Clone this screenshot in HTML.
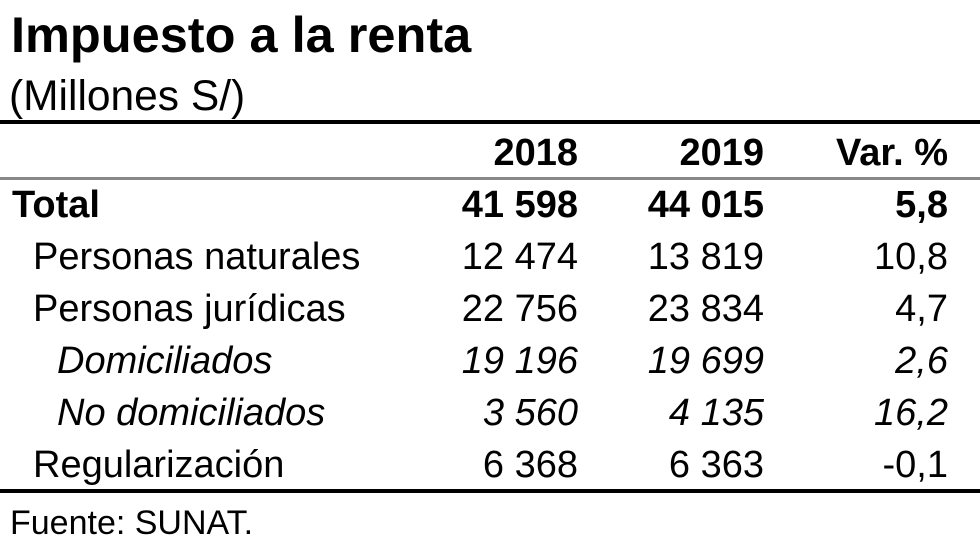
<!DOCTYPE html>
<html><head><meta charset="utf-8"><style>
body{margin:0;width:980px;height:552px;background:#fff;position:relative;overflow:hidden;font-family:"Liberation Sans",Arial,sans-serif;color:#000}
.t{position:absolute;white-space:nowrap;line-height:1}
.r{text-align:right}
.line{position:absolute;left:0;width:980px}
.b{font-weight:bold}.i{font-style:italic}
</style></head><body>
<div class="t b" style="left:11px;top:10px;font-size:50.5px">Impuesto a la renta</div>
<div class="t" style="left:9px;top:76px;font-size:42.5px">(Millones S/)</div>
<div class="line" style="top:120px;height:4px;background:#000"></div>
<div class="line" style="top:177px;height:3px;background:#888"></div>
<div class="line" style="top:489px;height:4px;background:#000"></div>
<div id="rows"></div>
<div class="t" style="left:10px;top:506px;font-size:34px">Fuente: SUNAT.</div>
<script>
const headers=["2018","2019","Var. %"];
const labels=["Total","Personas naturales","Personas jurídicas","Domiciliados","No domiciliados","Regularización"];
const v2018=["41 598","12 474","22 756","19 196","3 560","6 368"];
const v2019=["44 015","13 819","23 834","19 699","4 135","6 363"];
const varPct=["5,8","10,8","4,7","2,6","16,2","-0,1"];
const styles=["b","","","i","i",""];
const indent=[12,33,33,57,57,33];
const right=[578,764,948];
const c=document.getElementById('rows');
function add(txt,cls,x,top,size,alignRight,name){
  const d=document.createElement('div');
  d.className='t '+cls+(alignRight?' r':'');
  d.textContent=txt;
  d.style.fontSize=size+'px';d.style.top=top+'px';
  if(alignRight){d.style.right=(980-x)+'px';}else{d.style.left=x+'px';}
  
  
  c.appendChild(d);
}
headers.forEach((h,j)=>add(h,'b',right[j],134,38,true,'column-header'));
labels.forEach((l,i)=>{
  const top=186+i*52;
  const cls=styles[i];
  add(l,cls,indent[i],top,38,false,'row-label');
  add(v2018[i],cls,right[0],top,38,true,'value-2018');
  add(v2019[i],cls,right[1],top,38,true,'value-2019');
  add(varPct[i],cls,right[2],top,38,true,'value-var');
});
</script>
</body></html>
